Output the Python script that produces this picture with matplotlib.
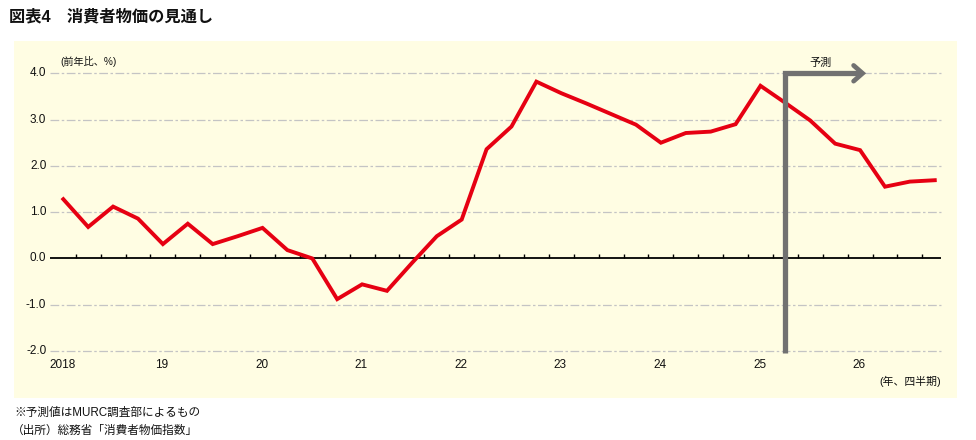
import matplotlib
matplotlib.use("Agg")
import matplotlib.pyplot as plt
from matplotlib.patches import Rectangle

plt.rcParams['font.family'] = ['Liberation Sans', 'Noto Sans CJK JP', 'DejaVu Sans']

# ---- data (quarterly, 2018Q1 .. 2026Q4) ----
cpi = [1.28, 0.68, 1.12, 0.86, 0.31, 0.75, 0.31, 0.48,
       0.66, 0.18, 0.00, -0.88, -0.56, -0.70, -0.10, 0.48,
       0.84, 2.36, 2.85, 3.82, 3.57, 3.35, 3.12, 2.89,
       2.50, 2.71, 2.74, 2.90, 3.73, 3.36, 2.98, 2.48,
       2.34, 1.55, 1.66, 1.69]
year_labels = ['2018', '19', '20', '21', '22', '23', '24', '25', '26']
y_ticks = [4.0, 3.0, 2.0, 1.0, 0.0, -1.0, -2.0]
y_tick_labels = ['4.0', '3.0', '2.0', '1.0', '0.0', '-1.0', '-2.0']
forecast_start = 29.0   # position of forecast marker (quarter index)
forecast_end = 32.1

W, H = 976, 440
fig = plt.figure(figsize=(W / 100, H / 100), dpi=100)
fig.patch.set_facecolor('white')

def fx(px):
    return px / W

def fy(py):
    return 1 - py / H

# background panel
bg = Rectangle((fx(14), fy(398)), fx(957) - fx(14), fy(41) - fy(398),
               transform=fig.transFigure, facecolor='#FFFDE3',
               edgecolor='none', zorder=-10)
fig.patches.append(bg)

# axes: x from 50px to 941px, y from 73.3px (4.0) to 351px (-2.0)
ax = fig.add_axes([fx(50), fy(351), fx(941) - fx(50), fy(73.3) - fy(351)])
ax.set_zorder(5)
ax.set_facecolor('none')
ax.patch.set_alpha(0)
for s in ax.spines.values():
    s.set_visible(False)
ax.set_xlim(-0.534, 35.25)
ax.set_ylim(-2.0, 4.0)
ax.set_xticks([])
ax.set_yticks([])

n = len(cpi)
xs = list(range(n))

# grid lines
for v in y_ticks:
    if v == 0:
        continue
    ax.axhline(v, color='#C4C4C4', lw=0.9, linestyle=(0, (7, 2, 2, 2)), zorder=1, clip_on=False)
ax.axhline(0, color='black', lw=1.3, zorder=2)
# quarter ticks on zero line
ax.vlines([i + 0.5 for i in range(n - 1)], 0, 0.1, color='black', lw=1.0, zorder=2)

# y tick labels
for v, lab in zip(y_ticks, y_tick_labels):
    ax.text(-0.68, v, lab, ha='right', va='center', fontsize=8.5, color='#111111',
            transform=ax.transData, clip_on=False)

# x labels (year at Q1)
for k, lab in enumerate(year_labels):
    fig.text(fx(63.3 + 24.9 * 4 * k) - 0.001, fy(365), lab, ha='center', va='center',
             fontsize=8.5, color='#111111')

# main line
ax.plot(xs, cpi, color='#E60012', lw=2.8, solid_joinstyle='miter', zorder=4, clip_on=False)

# forecast arrow (elbow + open chevron head)
arrow_col = '#717171'
ax.plot([forecast_start, forecast_start, forecast_end - 0.08],
        [-2.04, 4.0, 4.0], color=arrow_col, lw=3.8,
        solid_capstyle='butt', solid_joinstyle='miter', zorder=5, clip_on=False)
hx, hy = 0.36, 0.17
ax.plot([forecast_end - hx, forecast_end, forecast_end - hx],
        [4.0 + hy, 4.0, 4.0 - hy], color=arrow_col, lw=3.4,
        solid_capstyle='round', solid_joinstyle='miter', zorder=5, clip_on=False)
ax.text(30.4, 4.22, '予測', ha='center', va='center', fontsize=8, color='#111111',
        clip_on=False)

# annotations
fig.text(fx(60), fy(61.7), '(前年比、%)', ha='left', va='center', fontsize=7.3, color='#111111')
fig.text(fx(941), fy(381.7), '(年、四半期)', ha='right', va='center', fontsize=7.8, color='#111111')
fig.text(fx(9), fy(17), '図表4\u3000消費者物価の見通し', ha='left', va='center',
         fontsize=11.7, fontweight='bold', color='#111111')
fig.text(fx(14), fy(413), '※予測値はMURC調査部によるもの', ha='left', va='center',
         fontsize=8.4, color='#111111')
fig.text(fx(12), fy(431), '（出所）総務省「消費者物価指数」', ha='left', va='center',
         fontsize=8.4, color='#111111')

fig.savefig('out.png', dpi=100, facecolor='white')
